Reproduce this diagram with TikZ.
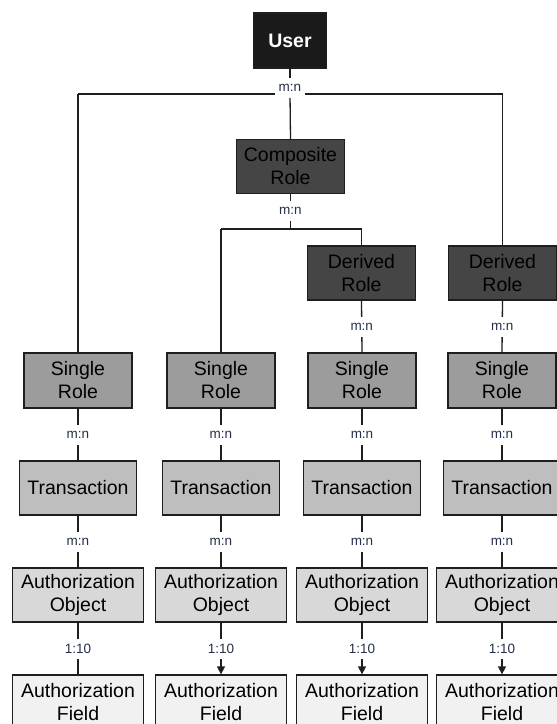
\documentclass[tikz,border=0pt]{standalone}
\usepackage{fontspec}
\setmainfont{Liberation Sans}
\usetikzlibrary{arrows.meta}
\definecolor{linec}{HTML}{1E1E1E}
\definecolor{userfill}{HTML}{1A1A1A}
\definecolor{darkfill}{HTML}{454545}
\definecolor{singlefill}{HTML}{9C9C9C}
\definecolor{transfill}{HTML}{BEBEBE}
\definecolor{objfill}{HTML}{D8D8D8}
\definecolor{fieldfill}{HTML}{F1F1F1}
\definecolor{labc}{HTML}{26304A}
\begin{document}
\begin{tikzpicture}[x=1pt,y=-1pt,
  box/.style={draw=linec, line width=1.3pt, inner sep=0pt, align=center,
    font=\fontsize{19.5}{23}\selectfont, text=black},
  userbox/.style={box, fill=userfill, text=white, minimum width=73pt, minimum height=55pt,
    font=\fontsize{19.5}{23}\selectfont\bfseries},
  rolebox/.style={box, fill=darkfill, minimum width=108pt, minimum height=54pt},
  singlebox/.style={box, fill=singlefill, minimum width=108pt, minimum height=55pt},
  transbox/.style={box, fill=transfill, minimum width=117pt, minimum height=54pt},
  objbox/.style={box, fill=objfill, minimum width=131pt, minimum height=54pt},
  fieldbox/.style={box, fill=fieldfill, minimum width=131pt, minimum height=54pt},
  conn/.style={draw=linec, line width=1.3pt},
  arr/.style={conn, -{Triangle[length=8pt,width=8pt]}},
  lab/.style={fill=white, text=labc, inner xsep=4pt, inner ysep=0pt, minimum height=20pt,
    font=\fontsize{13.5}{15}\selectfont}
]
\useasboundingbox (0,0) rectangle (557,724);
\fill[white] (0,0) rectangle (557,724);

% top nodes
\node[userbox] (user) at (290,40.5) {User};
\node[rolebox] (comp) at (290.5,166.5) {Composite\\Role};
\node[rolebox] (der1) at (361.5,273) {Derived\\Role};
\node[rolebox] (der2) at (502.5,273) {Derived\\Role};

% columns
\foreach \i/\x in {1/78,2/221,3/362,4/502}{
  \node[singlebox] (single\i) at (\x,380.5) {Single\\Role};
  \node[transbox] (trans\i) at (\x,488) {Transaction};
  \node[objbox] (obj\i) at (\x,595) {Authorization\\Object};
  \node[fieldbox] (field\i) at (\x,702) {Authorization\\Field};
}

% junction coordinates
\coordinate (j1) at (290,94);
\coordinate (jl) at (78,94);
\coordinate (jr) at (502.5,94);
\coordinate (j2) at (290.5,229);
\coordinate (j2l) at (221,229);
\coordinate (j2r) at (361.5,229);

% connectors from user
\draw[conn] (user.south) -- (j1);
\draw[conn] (jl) -- (jr);
\draw[conn] (jl) -- (single1.north);
\draw[conn] (j1) -- (comp.north);
\draw[conn] (jr) -- (der2.north);
\node[lab] (l0) at (290,88) {m:n};

% from composite
\draw[conn] (comp.south) -- (j2);
\draw[conn] (j2l) -- (j2r);
\draw[conn] (j2l) -- (single2.north);
\draw[conn] (j2r) -- (der1.north);
\node[lab] (l1) at (290.5,210.5) {m:n};

% derived to single
\draw[conn] (der1.south) -- node[lab] (l2) {m:n} (single3.north);
\draw[conn] (der2.south) -- node[lab] (l3) {m:n} (single4.north);

% column chains
\foreach \i in {1,2,3,4}{
  \draw[conn] (single\i.south) -- node[lab] {m:n} (trans\i.north);
  \draw[conn] (trans\i.south) -- node[lab] {m:n} (obj\i.north);
}
\draw[conn] (obj1.south) -- node[lab] (t1) {1:10} (field1.north);
\foreach \i in {2,3,4}{
  \draw[arr] (obj\i.south) -- node[lab] {1:10} (field\i.north);
}
\end{tikzpicture}
\end{document}
